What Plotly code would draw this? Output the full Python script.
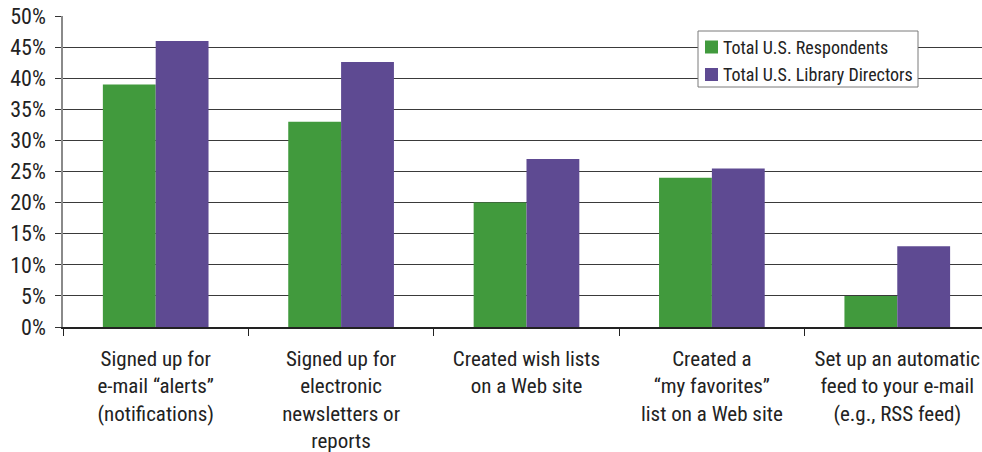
import plotly.graph_objects as go

categories = [
    "Signed up for<br>e-mail \u201calerts\u201d<br>(notifications)",
    "Signed up for<br>electronic<br>newsletters or<br>reports",
    "Created wish lists<br>on a Web site",
    "Created a<br>\u201cmy favorites\u201d<br>list on a Web site",
    "Set up an automatic<br>feed to your e-mail<br>(e.g., RSS feed)",
]
series_names = ["Total U.S. Respondents", "Total U.S. Library Directors"]
respondents = [39, 33, 20, 24, 5]
library_directors = [46, 42.6, 27, 25.5, 13]

y_ticks = [0, 5, 10, 15, 20, 25, 30, 35, 40, 45, 50]
y_tick_labels = [f"{v}%" for v in y_ticks]

FONT = "Roboto Condensed, Liberation Sans Narrow, DejaVu Sans Condensed, sans-serif"
GREEN = "#419a3d"
PURPLE = "#5e4a92"
TEXT = "#222222"

W, H = 982, 452
M_L, M_R, M_T, M_B = 63, 0, 16, 125
PLOT_W = W - M_L - M_R
PLOT_H = H - M_T - M_B


def px_x(x):
    return (x - M_L) / PLOT_W


def px_y(y):
    return (H - M_B - y) / PLOT_H


positions = list(range(len(categories)))
boundaries = [p - 0.5 for p in positions] + [positions[-1] + 0.5]

fig = go.Figure()
fig.add_trace(go.Bar(x=positions, y=respondents, name=series_names[0],
                     marker=dict(color=GREEN, line=dict(width=0))))
fig.add_trace(go.Bar(x=positions, y=library_directors, name=series_names[1],
                     marker=dict(color=PURPLE, line=dict(width=0))))

fig.update_layout(
    width=W, height=H,
    margin=dict(l=M_L, r=M_R, t=M_T, b=M_B),
    paper_bgcolor="white", plot_bgcolor="white",
    barmode="group", bargap=0.43, bargroupgap=0,
    font=dict(family=FONT, color=TEXT),
    showlegend=False,
)

# legend box drawn as shapes + text so its size stays compact
shapes = [dict(type="rect", xref="paper", yref="paper",
               x0=px_x(698), x1=px_x(918), y0=px_y(87), y1=px_y(31),
               fillcolor="white", line=dict(color="#7a7a7a", width=1), layer="above")]
annotations = []
for name, color, cy in zip(series_names, [GREEN, PURPLE], [47, 74.5]):
    shapes.append(dict(type="rect", xref="paper", yref="paper",
                       x0=px_x(705), x1=px_x(718), y0=px_y(cy + 6.5), y1=px_y(cy - 6.5),
                       fillcolor=color, line=dict(width=0), layer="above"))
    annotations.append(dict(xref="paper", yref="paper", x=px_x(721), y=px_y(cy),
                            xanchor="left", yanchor="middle", showarrow=False,
                            text=name, font=dict(family=FONT, size=18, color=TEXT)))
fig.update_layout(shapes=shapes, annotations=annotations)

# category labels centred under each group, tick marks on the group boundaries
fig.update_xaxes(
    range=[-0.5, 4.457],
    tickmode="array", tickvals=positions, ticktext=categories,
    ticks="", ticklabelstandoff=12, ticklabeloverflow="allow",
    minor=dict(tickmode="array", tickvals=boundaries, ticks="outside",
               ticklen=7, tickcolor=TEXT, tickwidth=1, showgrid=False),
    showline=True, linecolor=TEXT, linewidth=1.5,
    showgrid=False, zeroline=False,
    tickfont=dict(family=FONT, size=21, color=TEXT),
    tickangle=0,
)
fig.update_yaxes(
    range=[0, 50],
    tickmode="array", tickvals=y_ticks, ticktext=y_tick_labels,
    ticks="outside", ticklen=6, tickcolor="#333333", tickwidth=1,
    ticklabelstandoff=5,
    showline=True, linecolor="#8a8a8a", linewidth=1.5,
    showgrid=True, gridcolor="#3a3a3a", gridwidth=1,
    zeroline=False,
    tickfont=dict(family=FONT, size=22, color=TEXT),
)

fig.write_html("out.html")
